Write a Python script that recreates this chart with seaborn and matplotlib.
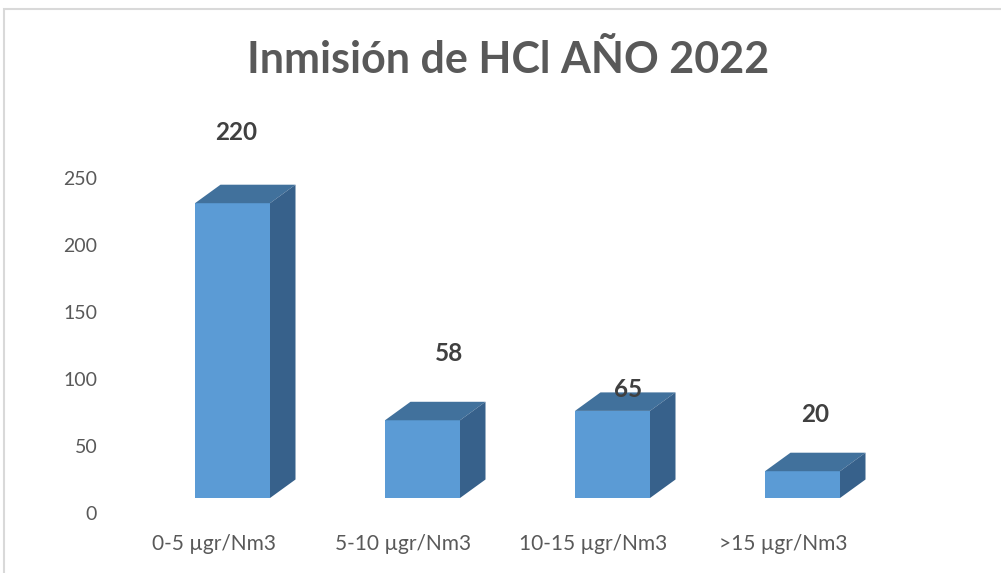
import matplotlib
matplotlib.use("Agg")
import matplotlib.pyplot as plt
import seaborn as sns
import pandas as pd
from matplotlib.patches import Polygon, Rectangle
from matplotlib.transforms import ScaledTranslation, IdentityTransform

# ---- data ----
categories = ["0-5 µgr/Nm3", "5-10 µgr/Nm3", "10-15 µgr/Nm3", ">15 µgr/Nm3"]
values = [220, 58, 65, 20]
y_ticks = [0, 50, 100, 150, 200, 250]
title = "Inmisión de HCl AÑO 2022"

# ---- style / layout ----
label_dx = [4, 27, 16, 13]     # data-label offsets (pixels)
label_dy = [71, 67, 21, 57]
FRONT = "#5B9BD5"
TOP = "#41719C"
SIDE = "#37618B"
TXT = "#595959"
DEPTH_X, DEPTH_Y = 25.5, 18.5

sns.set_style("white")
plt.rcParams["font.family"] = ["Lato", "DejaVu Sans"]

W, H = 1001, 573
fig = plt.figure(figsize=(W / 100, H / 100), dpi=100)
ax = fig.add_axes([137.5 / W, 75 / H, 760 / W, 335 / H])

df = pd.DataFrame({"cat": categories, "val": values})
sns.barplot(data=df, x="cat", y="val", color=FRONT, saturation=1, width=75 / 190,
            ax=ax, linewidth=0)
for p in ax.patches:
    p.set_facecolor(FRONT)

ax.set_xlim(-0.5, 3.5)
ax.set_ylim(0, 250)
ax.set_yticks(y_ticks)
ax.set_xlabel("")
ax.set_ylabel("")
for s in ax.spines.values():
    s.set_visible(False)
ax.tick_params(axis="y", length=0, pad=29, labelsize=14, labelcolor=TXT)
ax.tick_params(axis="x", length=0, pad=26, labelsize=15, labelcolor=TXT)
for lab in ax.get_yticklabels():
    lab.set_transform(lab.get_transform() + ScaledTranslation(0, -0.15, fig.dpi_scale_trans))
for lab in ax.get_xticklabels():
    lab.set_transform(lab.get_transform() + ScaledTranslation(-0.19, 0, fig.dpi_scale_trans))

# 3D faces drawn from the bar patches
fig.canvas.draw()
for p in list(ax.patches):
    x0, y0 = p.get_x(), p.get_y()
    x1, y1 = x0 + p.get_width(), y0 + p.get_height()
    (X0, Y0) = ax.transData.transform((x0, y0))
    (X1, Y1) = ax.transData.transform((x1, y1))
    top = Polygon([(X0, Y1), (X0 + DEPTH_X, Y1 + DEPTH_Y), (X1 + DEPTH_X, Y1 + DEPTH_Y), (X1, Y1)],
                  closed=True, facecolor=TOP, edgecolor="none", transform=IdentityTransform(),
                  zorder=2, clip_on=False)
    side = Polygon([(X1, Y0), (X1, Y1), (X1 + DEPTH_X, Y1 + DEPTH_Y), (X1 + DEPTH_X, Y0 + DEPTH_Y)],
                   closed=True, facecolor=SIDE, edgecolor="none", transform=IdentityTransform(),
                   zorder=2, clip_on=False)
    ax.add_artist(top)
    ax.add_artist(side)

for i, v in enumerate(values):
    ax.annotate(f"{v}", xy=(i, v), xytext=(label_dx[i], label_dy[i]),
                textcoords="offset pixels", ha="center", va="center",
                fontsize=17.5, fontweight="bold", color="#404040",
                annotation_clip=False, zorder=6)

fig.text(508 / W, 1 - 60 / H, title, ha="center", va="center",
         fontsize=31, fontweight="bold", color=TXT)

fig.patches.append(Rectangle((4 / W, -0.1), 1.2, 0.1 + (H - 9) / H, transform=fig.transFigure,
                             fill=False, edgecolor="#D9D9D9", linewidth=1.5))

fig.savefig("out.png", dpi=100)
